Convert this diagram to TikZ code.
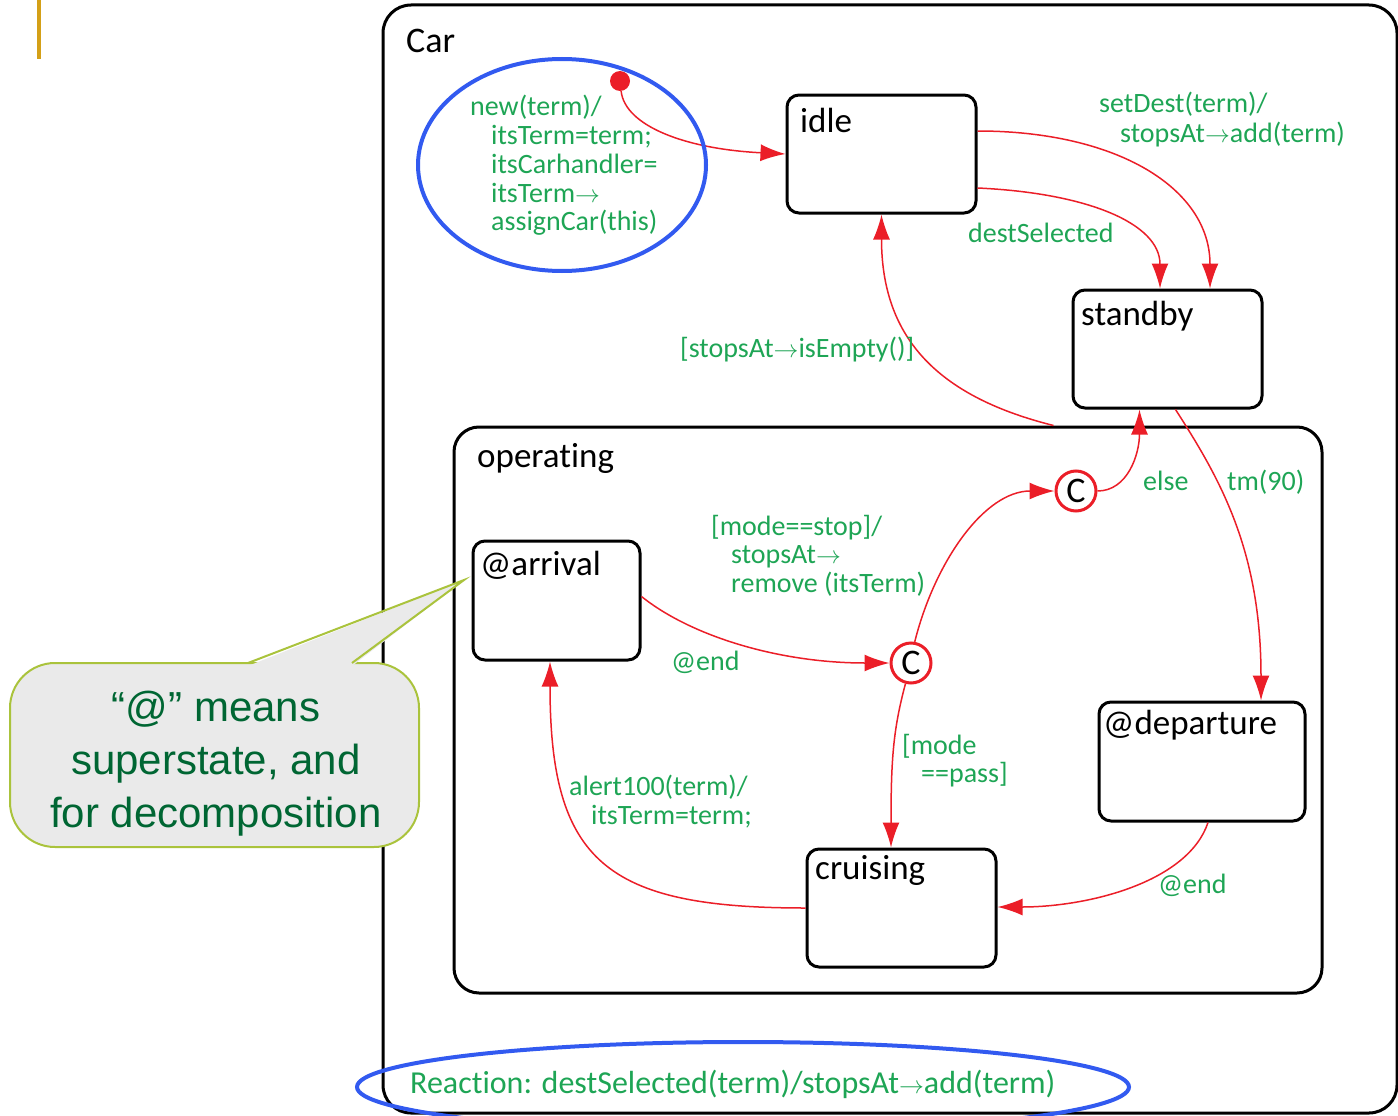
\documentclass[tikz,border=0pt]{standalone}
\usepackage{fontspec}
\setmainfont{Carlito}[Ligatures={NoCommon}]
\newfontfamily\notefont{Liberation Sans}
\usetikzlibrary{arrows.meta,calc}
\definecolor{trgreen}{RGB}{30,165,85}
\definecolor{trred}{RGB}{235,30,40}
\definecolor{hlblue}{RGB}{50,90,240}
\definecolor{bargold}{RGB}{212,160,23}
\definecolor{noteedge}{RGB}{170,195,60}
\definecolor{notefill}{RGB}{234,234,234}
\definecolor{notetext}{RGB}{0,102,51}

\begin{document}
\begin{tikzpicture}[x=1pt,y=-1pt,
  container/.style={draw=black,line width=3pt,inner sep=0pt},
  statebox/.style={draw=black,line width=3pt,rounded corners=12pt,minimum width=189pt,minimum height=118pt,inner sep=0pt},
  statename/.style={anchor=base west,inner sep=0pt,font=\fontsize{35}{40}\selectfont},
  guard/.style={anchor=base west,inner sep=0pt,text height=20pt,text depth=6pt,text=trgreen,font=\fontsize{28}{28}\selectfont},
  trans/.style={draw=trred,line width=1.5pt,-{Latex[length=25pt,width=17pt]}},
  cond/.style={circle,draw=trred,line width=3pt,fill=white,minimum size=40pt,inner sep=0pt,font=\fontsize{36}{36}\selectfont},
  hilite/.style={draw=hlblue,line width=4pt},
]
\useasboundingbox (0,0) rectangle (1398,1116);

% slide accent bar
\fill[bargold] (37,0) rectangle (40.5,59);

% containers
\node[container,rounded corners=28pt,minimum width=1014pt,minimum height=1108pt] (car) at (890,559) {};
\node[statename,font=\fontsize{36}{40}\selectfont] (car-t) at (406,53) {Car};
\node[container,rounded corners=25pt,minimum width=868pt,minimum height=566pt] (operating) at (888,710) {};
\node[statename] (operating-t) at (477,467) {operating};

% states
\node[statebox] (idle) at (881.5,154) {};
\node[statename] (idle-t) at (800,132) {idle};
\node[statebox] (standby) at (1167.5,349) {};
\node[statename] (standby-t) at (1081,325) {standby};
\node[statebox,minimum width=167pt,minimum height=119pt] (arrival) at (556.5,600.5) {};
\node[statename] (arrival-t) at (480,575) {@arrival};
\node[statebox,minimum width=206pt,minimum height=119pt] (departure) at (1202,761.5) {};
\node[statename] (departure-t) at (1103,734) {@departure};
\node[statebox] (cruising) at (901.5,908) {};
\node[statename] (cruising-t) at (815,879) {cruising};

% initial pseudostate
\node[circle,fill=trred,minimum size=20pt,inner sep=0pt] (init) at (620,81) {};

% connector ports
\coordinate (idle-o1) at ($(idle.east)+(0,-23)$);
\coordinate (idle-o2) at ($(idle.east)+(0,34)$);
\coordinate (stby-i1) at ($(standby.north)+(42.5,0)$);
\coordinate (stby-i2) at ($(standby.north)+(-7.5,0)$);
\coordinate (stby-o) at ($(standby.south)+(8,0)$);
\coordinate (stby-i3) at ($(standby.south)+(-28,0)$);
\coordinate (op-o) at ($(operating.north west)+(601,0)$);
\coordinate (dep-i) at ($(departure.north)+(59,0)$);
\coordinate (dep-o) at ($(departure.south)+(6,0)$);
\coordinate (arr-o) at ($(arrival.east)+(0,-4)$);
\coordinate (arr-i) at ($(arrival.south)+(-6.5,0)$);
\coordinate (cru-i1) at ($(cruising.north)+(-10.5,0)$);
\coordinate (cru-i2) at ($(cruising.east)+(0,-1)$);

% transitions
\draw[trans] (init) .. controls +(5,45) and +(-100,-5) .. (idle.west);
\draw[trans] (idle-o1) .. controls +(140,0) and +(0,-100) .. (stby-i1);
\draw[trans] (idle-o2) .. controls +(110,5) and +(0,-65) .. (stby-i2);
\draw[trans] (op-o) .. controls +(-120,-30) and +(0,120) .. (idle.south);
\draw[trans] (stby-o) .. controls +(45,70) and +(0,-150) .. (dep-i);

\node[cond] (c1) at (1076,491) {C};
\node[cond] (c2) at (911,663) {C};

\draw[trans] (c1.east) .. controls +(30,0) and +(0,45) .. (stby-i3);
\draw[trans] (c2.80) .. controls +(20,-80) and +(-70,0) .. (c1.west);
\draw[trans] (arr-o) .. controls +(50,40) and +(-110,0) .. (c2.west);
\draw[trans] (c2.255) .. controls +(-12,45) and +(0,-90) .. (cru-i1);
\draw[trans] (dep-o) .. controls +(-20,60) and +(90,0) .. (cru-i2);
\draw[trans] (cruising.west) .. controls +(-200,0) and +(0,200) .. (arr-i);

% transition labels
\node[guard] (l-sd1) at (1099,113) {setDest(term)/};
\node[guard] (l-sd2) at (1120,142) {stopsAt$\rightarrow$add(term)};
\node[guard] (l-ds) at (968,242) {destSelected};
\node[guard] (l-empty) at (680,357) {[stopsAt$\rightarrow$isEmpty()]};
\node[guard] (l-stop1) at (711,535) {[mode==stop]/};
\node[guard] (l-stop2) at (731,563) {stopsAt$\rightarrow$};
\node[guard] (l-stop3) at (731,592) {remove (itsTerm)};
\node[guard] (l-end1) at (671,670) {@end};
\node[guard] (l-else) at (1143,490) {else};
\node[guard] (l-tm) at (1227,490) {tm(90)};
\node[guard] (l-pass1) at (902,754) {[mode};
\node[guard] (l-pass2) at (921,782) {==pass]};
\node[guard] (l-alert1) at (569,795) {alert100(term)/};
\node[guard] (l-alert2) at (591,824) {itsTerm=term;};
\node[guard] (l-end2) at (1158,893) {@end};

% creation action
\node[guard] (l-new1) at (470,115) {new(term)/};
\node[guard] (l-new2) at (491,144) {itsTerm=term;};
\node[guard] (l-new3) at (491,173) {itsCarhandler=};
\node[guard] (l-new4) at (491,202) {itsTerm$\rightarrow$};
\node[guard] (l-new5) at (491,230) {assignCar(this)};

% reaction
\node[guard,font=\fontsize{32}{34}\selectfont] (l-react) at (410,1093) {Reaction: destSelected(term)/stopsAt$\rightarrow$add(term)};

% highlight rings
\draw[hilite] (562,165) ellipse [x radius=144pt, y radius=106pt];
\draw[hilite] (743,1087) ellipse [x radius=386pt, y radius=45pt];

% callout
\path[draw=noteedge,fill=notefill,line width=2pt,rounded corners=45pt] (10,663) rectangle (419,847);
\fill[notefill] (248,666) -- (464,580) -- (352,666) -- cycle;
\draw[noteedge,line width=2pt,line join=miter] (248,663) -- (464,580) -- (352,663);
\node[align=center,inner sep=0pt,text=notetext,font=\notefont\fontsize{42}{53}\selectfont] (note) at (216,764)
  {“@” means\\superstate, and\\for decomposition};
\end{tikzpicture}
\end{document}
